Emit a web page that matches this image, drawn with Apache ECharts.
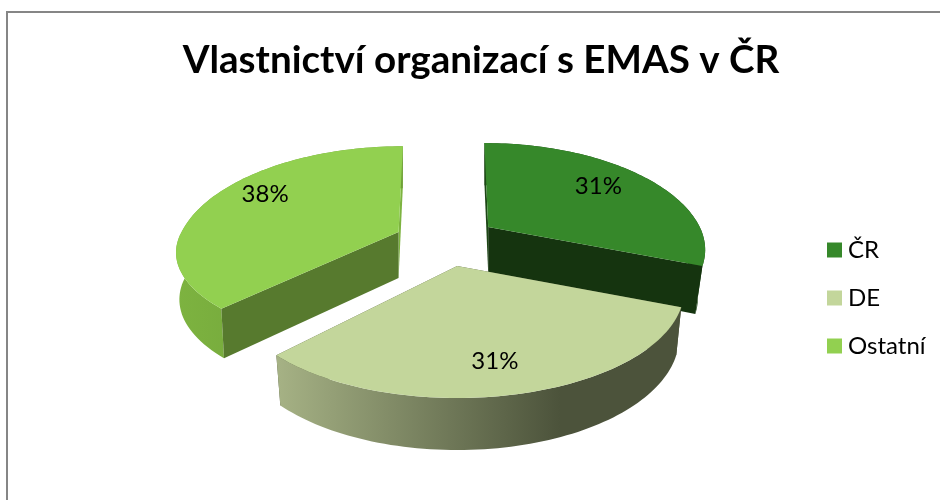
<!DOCTYPE html>
<html>
<head>
<meta charset="utf-8">
<style>
  html, body { margin: 0; padding: 0; background: #fff; }
  #main { width: 940px; height: 500px; }
</style>
<script src="https://cdn.jsdelivr.net/npm/echarts@6/dist/echarts.min.js"></script>
</head>
<body>
<div id="main"></div>
<script>
// data
const categories = ['ČR', 'DE', 'Ostatní'];
const values = [31, 31, 38];
const titleText = 'Vlastnictví organizací s EMAS v ČR';

// colours of each slice
const topColors = ['#36882A', '#C3D69B', '#92D050'];
const cutColors = ['#15340F', '#4C533B', '#577A2E'];
const sliverColors = ['#1D4716', '#4C533B', '#7DB340'];
const wallFrom = ['#1D4716', '#A6B285', '#7DB340'];
const wallTo = ['#1D4716', '#4C533B', '#6FA038'];
const labelNudge = [[-1, -4], [-9, -2], [-1, -12]];
const labelRadius = [0.7, 0.8, 0.7];

// look of the fake 3d pie, the slices are not all the same shape because of the perspective
const cx = 446, cy = 241.3;
const rx = 217, ry = 102.6, persp = 0.222;
const explodeX = 51, explodeY = 25.4;
const xScale = [0.975, 1.02, 1];
const nearYScale = [0.95, 1, 0.86];
const farYScale = [1, 1, 1.02];
const bottomXScale = [0.967, 0.978, 0.985];

const total = values.reduce((a, b) => a + b, 0);

// angle is clockwise from 12 o'clock, in radians
function sliceAngles(i) {
  let before = 0;
  for (let k = 0; k < i; k++) before += values[k];
  const a0 = before / total * Math.PI * 2;
  const a1 = (before + values[i]) / total * Math.PI * 2;
  return [a0, a1];
}

function makeProjector(i, mid) {
  const ax = cx + explodeX * Math.sin(mid);
  const ay = cy - explodeY * Math.cos(mid);
  const ox = ax - cx;
  return function (angle, r, bottom) {
    const u = r * Math.sin(angle);
    const v = -r * Math.cos(angle);
    const d = 1 - persp * v;
    let dx = rx * xScale[i] * u / d;
    const dy = ry * v / d * (v > 0 ? nearYScale[i] : farYScale[i]);
    if (v < 0) dx += ox * 0.09 * v;
    if (!bottom) return [ax + dx, ay + dy];
    return [ax + dx * bottomXScale[i], ay + dy + 46 + 0.046 * dy];
  };
}

function renderSlice(params, api) {
  const i = params.seriesIndex;
  const [a0, a1] = sliceAngles(i);
  const mid = (a0 + a1) / 2;
  const p = makeProjector(i, mid);

  const steps = 80;
  const topArc = [], bottomArc = [];
  for (let s = 0; s <= steps; s++) {
    const a = a0 + (a1 - a0) * s / steps;
    topArc.push(p(a, 1, false));
    bottomArc.push(p(a, 1, true));
  }
  const apex = p(0, 0, false);
  const apexB = p(0, 0, true);

  const wallFill = new echarts.graphic.LinearGradient(0, 0, 1, 0, [
    { offset: 0, color: wallFrom[i] },
    { offset: 0.7, color: wallTo[i] },
    { offset: 1, color: wallTo[i] }
  ]);

  // ČR ends on the near side, Ostatní starts on it
  const nearIsEnd = i < 2;
  const nearA = nearIsEnd ? topArc[steps] : topArc[0];
  const nearB = nearIsEnd ? bottomArc[steps] : bottomArc[0];
  const farA = nearIsEnd ? topArc[0] : topArc[steps];
  const farB = nearIsEnd ? bottomArc[0] : bottomArc[steps];

  const labelAt = p(mid, labelRadius[i], false);
  const percent = Math.round(api.value(0) / total * 100) + '%';

  const sliver = { type: 'polygon', shape: { points: [apex, farA, farB, apexB] }, style: { fill: sliverColors[i] } };
  const wall = { type: 'polygon', shape: { points: topArc.concat(bottomArc.slice().reverse()) }, style: { fill: wallFill } };
  const cut = { type: 'polygon', shape: { points: [apex, nearA, nearB, apexB] }, style: { fill: cutColors[i] } };
  const top = { type: 'polygon', shape: { points: [apex].concat(topArc) }, style: { fill: topColors[i] } };

  // a slice over the front of the pie hides its cut faces behind the outer wall
  const overFront = a0 < Math.PI && a1 > Math.PI;
  const sides = overFront ? [sliver, cut, wall] : [sliver, wall, cut];

  return {
    type: 'group',
    children: sides.concat([top, {
      type: 'text',
      style: {
        text: percent,
        x: labelAt[0] + labelNudge[i][0],
        y: labelAt[1] + labelNudge[i][1],
        align: 'center',
        verticalAlign: 'middle',
        font: '24px Lato',
        fill: '#000'
      }
    }])
  };
}

const chart = echarts.init(document.getElementById('main'));
chart.setOption({
  animation: false,
  backgroundColor: '#fff',
  title: {
    text: titleText,
    left: 476,
    top: 36,
    textAlign: 'center',
    textStyle: { fontFamily: 'Lato', fontWeight: 'bold', fontSize: 38.6, color: '#000' }
  },
  legend: {
    orient: 'vertical',
    left: 822,
    top: 233,
    itemWidth: 15,
    itemHeight: 15,
    itemGap: 24,
    icon: 'rect',
    textStyle: { fontFamily: 'Lato', fontSize: 24, color: '#000', padding: [0, 0, 0, 1] },
    data: categories
  },
  graphic: [{
    type: 'polyline',
    silent: true,
    shape: { points: [[7, 500], [7, 12], [940, 12]] },
    style: { stroke: '#868686', lineWidth: 2, fill: null }
  }],
  series: categories.map((name, i) => ({
    name: name,
    type: 'custom',
    coordinateSystem: 'none',
    renderItem: renderSlice,
    itemStyle: { color: topColors[i] },
    data: [values[i]]
  }))
});
</script>
</body>
</html>
